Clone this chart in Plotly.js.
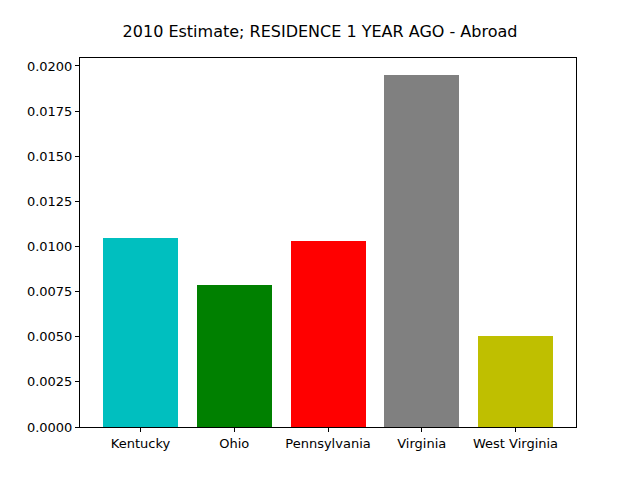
<!DOCTYPE html>
<html>
<head>
<script src="https://cdn.plot.ly/plotly-3.0.1.min.js"></script>
</head>
<body style="margin:0">
<div id="chart" style="width:640px;height:480px"></div>
<script>
// états et valeurs
var states = ["Kentucky", "Ohio", "Pennsylvania", "Virginia", "West Virginia"];
var values = [0.01047, 0.00787, 0.01030, 0.01948, 0.00504];
var colors = ["#00bfbf", "#008000", "#ff0000", "#808080", "#bfbf00"];
var yTicks = [0, 0.0025, 0.005, 0.0075, 0.01, 0.0125, 0.015, 0.0175, 0.02];

var trace = {
	x: [0, 1, 2, 3, 4],
	y: values,
	type: 'bar',
	width: 0.8,
	marker: {color: colors}
};

var layout = {
	width: 640,
	height: 480,
	margin: {l: 80, r: 64, t: 58, b: 53},
	paper_bgcolor: '#fff',
	plot_bgcolor: '#fff',
	font: {family: 'DejaVu Sans', size: 13, color: '#000'},
	title: {text: '2010 Estimate; RESIDENCE 1 YEAR AGO - Abroad', font: {size: 16}, y: 0.935, yanchor: 'middle'},
	showlegend: false,
	xaxis: {
		range: [-0.645, 4.645],
		tickvals: [0, 1, 2, 3, 4],
		ticktext: states,
		ticks: 'outside', ticklen: 4, tickcolor: '#000',
		showgrid: false, zeroline: false,
		showline: true, linecolor: '#000', mirror: true
	},
	yaxis: {
		range: [0, 0.02044],
		tickvals: yTicks,
		ticktext: yTicks.map(function(v){ return v.toFixed(4); }),
		ticks: 'outside', ticklen: 4, tickcolor: '#000',
		showgrid: false, zeroline: false,
		showline: true, linecolor: '#000', mirror: true
	},
	bargap: 0
};

Plotly.newPlot('chart', [trace], layout, {displayModeBar: false});
</script>
</body>
</html>
